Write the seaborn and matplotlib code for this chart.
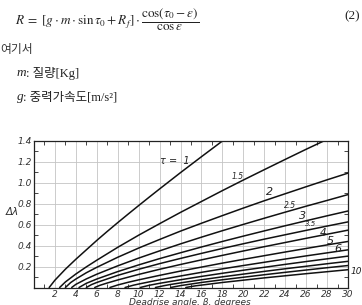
import numpy as np
import pandas as pd
import matplotlib
matplotlib.use("Agg")
import matplotlib.pyplot as plt
import seaborn as sns
from matplotlib.ticker import MultipleLocator, FixedLocator

# ---- data (beta in degrees, delta-lambda) ----
tau_values = [1, 1.5, 2, 2.5, 3, 3.5, 4, 5, 6, 7, 8, 9, 10]

beta_t1 = [1.45, 2, 3, 4, 5, 6, 7, 8, 9, 10, 11, 12, 13, 14, 15, 16, 17, 18]
dlam_t1 = [0, 0.07, 0.175, 0.27, 0.36, 0.45, 0.536, 0.62, 0.702, 0.783, 0.863, 0.942, 1.02, 1.098, 1.174, 1.25, 1.325, 1.40]

beta_t15 = [2.45, 3, 4, 5, 6, 8, 10, 12, 14, 16, 18, 20, 22, 24, 26, 28]
dlam_t15 = [0, 0.053, 0.129, 0.197, 0.261, 0.384, 0.50, 0.61, 0.718, 0.822, 0.926, 1.027, 1.126, 1.224, 1.321, 1.415]

beta_t2 = [3, 3.5, 4, 5, 6, 8, 10, 12, 14, 16, 18, 20, 22, 24, 26, 28, 30]
dlam_t2 = [0, 0.047, 0.081, 0.141, 0.193, 0.289, 0.377, 0.459, 0.539, 0.614, 0.687, 0.759, 0.829, 0.896, 0.963, 1.029, 1.093]

beta_t25 = [3.6, 4, 5, 6, 8, 10, 12, 14, 16, 18, 20, 22, 24, 26, 28, 30]
dlam_t25 = [0, 0.030, 0.082, 0.127, 0.207, 0.281, 0.350, 0.417, 0.481, 0.543, 0.603, 0.662, 0.720, 0.777, 0.832, 0.888]

beta_t3 = [4.3, 5, 6, 8, 10, 12, 14, 16, 18, 20, 22, 24, 26, 28, 30]
dlam_t3 = [0, 0.040, 0.081, 0.152, 0.216, 0.276, 0.332, 0.387, 0.440, 0.491, 0.541, 0.590, 0.638, 0.685, 0.731]

beta_t35 = [5.0, 5.5, 6, 8, 10, 12, 14, 16, 18, 20, 22, 24, 26, 28, 30]
dlam_t35 = [0, 0.028, 0.048, 0.116, 0.174, 0.228, 0.278, 0.326, 0.373, 0.418, 0.462, 0.504, 0.546, 0.587, 0.627]

beta_t4 = [5.8, 6.3, 7, 8, 10, 12, 14, 16, 18, 20, 22, 24, 26, 28, 30]
dlam_t4 = [0, 0.021, 0.043, 0.072, 0.125, 0.174, 0.220, 0.264, 0.307, 0.349, 0.390, 0.430, 0.470, 0.509, 0.548]

beta_t5 = [7.25, 8, 9, 10, 12, 14, 16, 18, 20, 22, 24, 26, 28, 30]
dlam_t5 = [0, 0.024, 0.050, 0.073, 0.116, 0.157, 0.195, 0.233, 0.269, 0.304, 0.339, 0.373, 0.407, 0.44]

beta_t6 = [8.7, 9.5, 10, 12, 14, 16, 18, 20, 22, 24, 26, 28, 30]
dlam_t6 = [0, 0.022, 0.033, 0.074, 0.110, 0.145, 0.178, 0.210, 0.241, 0.272, 0.302, 0.331, 0.36]

beta_t7 = [10.15, 11, 12, 14, 16, 18, 20, 22, 24, 26, 28, 30]
dlam_t7 = [0, 0.021, 0.040, 0.074, 0.106, 0.136, 0.165, 0.193, 0.221, 0.248, 0.274, 0.30]

beta_t8 = [11.6, 12.5, 13, 14, 16, 18, 20, 22, 24, 26, 28, 30]
dlam_t8 = [0, 0.019, 0.028, 0.044, 0.074, 0.102, 0.128, 0.154, 0.179, 0.203, 0.227, 0.25]

beta_t9 = [13.05, 14, 15, 16, 18, 20, 22, 24, 26, 28, 30]
dlam_t9 = [0, 0.018, 0.033, 0.048, 0.074, 0.098, 0.122, 0.145, 0.167, 0.189, 0.21]

beta_t10 = [14.5, 15, 15.5, 16, 18, 20, 22, 24, 26, 28, 30]
dlam_t10 = [0, 0.009, 0.017, 0.023, 0.048, 0.070, 0.092, 0.112, 0.132, 0.151, 0.17]

curve_betas = [beta_t1, beta_t15, beta_t2, beta_t25, beta_t3, beta_t35, beta_t4,
               beta_t5, beta_t6, beta_t7, beta_t8, beta_t9, beta_t10]
curve_dlams = [dlam_t1, dlam_t15, dlam_t2, dlam_t25, dlam_t3, dlam_t35, dlam_t4,
               dlam_t5, dlam_t6, dlam_t7, dlam_t8, dlam_t9, dlam_t10]

x_tick_labels = ["2", "4", "6", "8", "10", "12", "14", "16", "18", "20", "22", "24", "26", "28", "30"]
y_tick_labels = ["0.2", "0.4", "0.6", "0.8", "1.0", "1.2", "1.4"]

# curve labels
curve_label_text = ["τ =  1", "1.5", "2", "2.5", "3", "3.5", "4", "5", "6", "10"]
curve_label_beta = [13.5, 19.5, 22.5, 24.5, 25.7, 26.4, 27.6, 28.3, 29.0, 30.2]
curve_label_dlam = [1.21, 1.06, 0.91, 0.786, 0.68, 0.605, 0.52, 0.443, 0.364, 0.15]
curve_label_size = [7, 5.5, 8, 5.5, 8, 5, 7.5, 8, 8, 6.5]

rows = []
for tau, bs, ds in zip(tau_values, curve_betas, curve_dlams):
    for b, d in zip(bs, ds):
        rows.append({"tau": tau, "beta": b, "dlam": d})
df = pd.DataFrame(rows)

# ---- figure ----
sns.set_theme(style="white")
plt.rcParams["mathtext.fontset"] = "stix"
W, H = 362, 305
fig = plt.figure(figsize=(W / 100, H / 100), dpi=100)

def fx(px):
    return px / W

def fy(py):
    return 1 - py / H

# top text block
kor = ["Liberation Serif", "Noto Sans CJK KR"]
fig.text(fx(15), fy(20), r"$R\;=\;[g\cdot m\cdot\sin\tau_0+R_f]\cdot\dfrac{\cos(\tau_0-\varepsilon)}{\cos\varepsilon}$",
         fontsize=9.5, va="center", ha="left", color="#222222")
fig.text(fx(360), fy(16), "(2)", fontsize=9.5, va="center", ha="right",
         family="Liberation Serif", color="#222222")
fig.text(fx(0), fy(50), "여기서", fontsize=8.5, va="center", ha="left",
         family=["Noto Sans CJK KR", "DejaVu Sans"], color="#333333")
fig.text(fx(17), fy(73), "m", fontsize=9.5, style="italic", va="center", ha="left",
         family="Liberation Serif", color="#222222")
fig.text(fx(25.5), fy(73), ": 질량[Kg]", fontsize=9, va="center", ha="left",
         family=kor, color="#222222")
fig.text(fx(17), fy(97), "g", fontsize=9.5, style="italic", va="center", ha="left",
         family="Liberation Serif", color="#222222")
fig.text(fx(23), fy(97), ": 중력가속도[m/s²]", fontsize=9, va="center", ha="left",
         family=kor, color="#222222")

# axes
left, right, top, bottom = 34, 348, 141, 287.5
ax = fig.add_axes([fx(left), fy(bottom), (right - left) / W, (bottom - top) / H])

sns.lineplot(data=df, x="beta", y="dlam", hue="tau", units="tau", estimator=None,
             sort=False, palette={t: "#111111" for t in tau_values}, legend=False,
             linewidth=1.1, ax=ax)

ax.set_xlim(0, 30)
ax.set_ylim(0, 1.4)
ax.xaxis.set_major_locator(FixedLocator(np.arange(2, 31, 2)))
ax.yaxis.set_major_locator(FixedLocator(np.arange(0.2, 1.41, 0.2)))
ax.xaxis.set_minor_locator(MultipleLocator(1))
ax.yaxis.set_minor_locator(MultipleLocator(0.1))
ax.set_xticklabels(x_tick_labels)
ax.set_yticklabels(y_tick_labels)
ax.grid(True, which="major", color="#c4c4c4", linewidth=0.6)
ax.tick_params(which="major", direction="in", length=0, pad=1.5,
               labelsize=6.5, labelcolor="#333333")
ax.tick_params(which="minor", direction="in", length=3, width=0.7, color="#444444",
               top=True, right=True, bottom=True, left=True)
for lab in ax.get_xticklabels() + ax.get_yticklabels():
    lab.set_fontstyle("italic")
for s in ax.spines.values():
    s.set_color("#222222")
    s.set_linewidth(0.9)
ax.set_xlabel("")
ax.set_ylabel("")

for t, b, d, sz in zip(curve_label_text, curve_label_beta, curve_label_dlam, curve_label_size):
    ax.text(b, d, t, fontsize=sz, style="italic", ha="left" if t == "10" else "center",
            va="center", color="#222222", clip_on=False)

fig.text(fx(12), fy(212), "Δλ", fontsize=7.5, style="italic", ha="center", va="center",
         color="#333333")
fig.text(fx(190), fy(302.5), "Deadrise angle, β, degrees", fontsize=6.5, style="italic",
         ha="center", va="center", color="#333333")

fig.savefig("out.png", dpi=100)
